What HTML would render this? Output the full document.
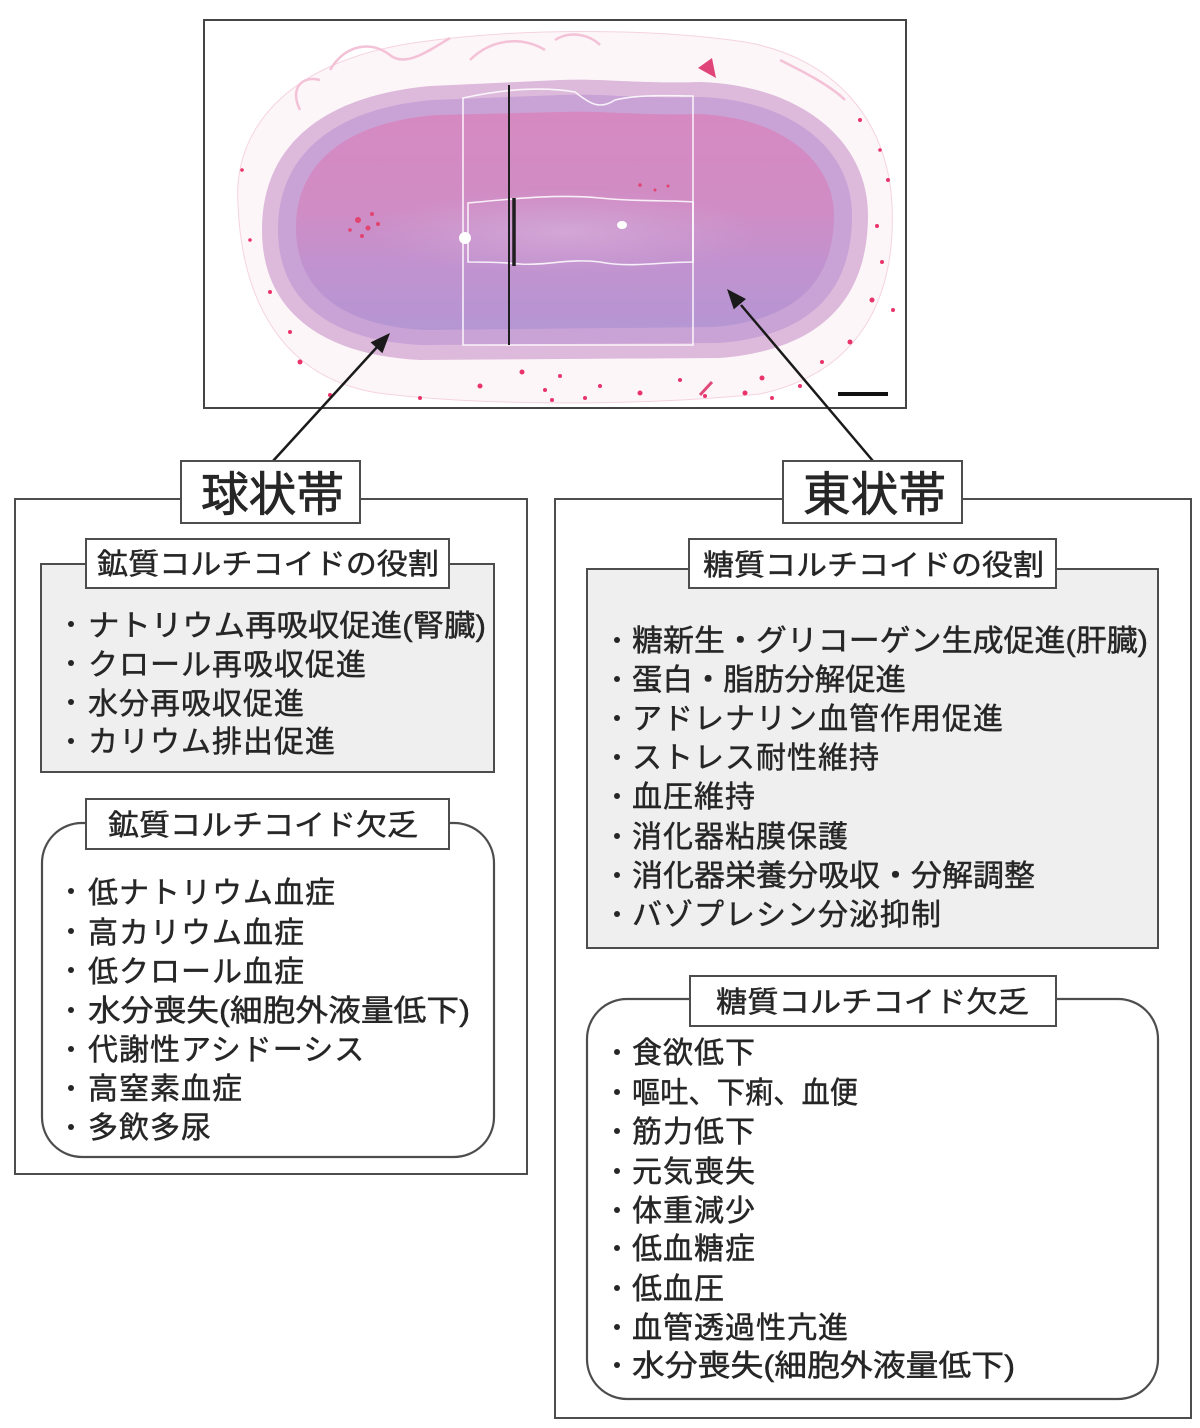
<!DOCTYPE html>
<html lang="ja">
<head>
<meta charset="utf-8">
<style>
  html,body{margin:0;padding:0;background:#fff;}
  svg{display:block;}
  .t{font-family:"Liberation Sans","Noto Sans CJK JP",sans-serif;fill:#262626;stroke:#262626;stroke-width:0.45px;}
  .it{font-size:30px;letter-spacing:1px;}
  .lb{font-size:29px;}
  .ti{font-size:47px;stroke-width:0.7px;}
</style>
</head>
<body>
<svg width="1200" height="1428" viewBox="0 0 1200 1428" xmlns="http://www.w3.org/2000/svg">
  <defs>
    <linearGradient id="core" x1="0" y1="0" x2="0" y2="1">
      <stop offset="0" stop-color="#d689c1"/>
      <stop offset="0.45" stop-color="#d08cc4"/>
      <stop offset="0.7" stop-color="#c192cf"/>
      <stop offset="1" stop-color="#b596d3"/>
    </linearGradient>
    <radialGradient id="med" cx="0.5" cy="0.5" r="0.5">
      <stop offset="0" stop-color="#d3a9d8" stop-opacity="0.9"/>
      <stop offset="1" stop-color="#cfa3d5" stop-opacity="0"/>
    </radialGradient>
  </defs>

  <!-- Photo frame -->
  <rect x="204" y="20" width="702" height="388" fill="#ffffff" stroke="#454545" stroke-width="2"/>

  <!-- capsule / fringe -->
  <path d="M238,205 C232,120 300,58 420,42 C520,28 650,28 745,42 C835,58 888,120 892,205 C896,295 862,372 760,394 C640,406 480,406 378,393 C282,378 242,300 238,205 Z" fill="#fdf6f9" stroke="#f5d3e1" stroke-width="1"/>
  <path d="M330,70 C345,45 370,40 390,55 C405,68 430,50 450,38 M470,60 C490,40 520,35 545,50 M555,40 C570,30 590,35 600,45 M300,110 C290,90 300,75 320,80 M780,60 C800,70 830,85 845,100" fill="none" stroke="#f3c2d6" stroke-width="2.5"/>
  <path d="M698,68 L712,58 L716,78 Z" fill="#e0457a"/>

  <!-- cortex layers -->
  <path d="M262,230 C262,140 330,95 430,86 L560,80 C600,78 640,84 700,82 C800,85 868,140 868,215 C868,300 820,350 720,358 L420,360 C320,355 262,310 262,230 Z" fill="#ddbadb"/>
  <path d="M278,230 C278,150 340,108 432,100 L560,95 C600,93 640,99 700,97 C790,100 852,148 852,215 C852,292 810,336 718,343 L422,345 C332,341 278,302 278,230 Z" fill="#c9a3d6"/>
  <path d="M296,228 C296,160 350,122 436,115 L560,112 C600,110 640,116 698,114 C780,117 834,160 834,215 C834,282 796,320 714,327 L425,330 C345,326 296,292 296,228 Z" fill="url(#core)"/>
  <ellipse cx="565" cy="232" rx="200" ry="44" fill="url(#med)"/>
  <!-- red cluster -->
  <g fill="#e2436f">
    <circle cx="358" cy="220" r="3"/><circle cx="368" cy="228" r="2.5"/><circle cx="372" cy="214" r="2"/>
    <circle cx="362" cy="236" r="2"/><circle cx="378" cy="224" r="2"/><circle cx="350" cy="230" r="1.8"/>
    <circle cx="640" cy="185" r="1.8"/><circle cx="655" cy="190" r="1.5"/><circle cx="668" cy="186" r="1.5"/>
  </g>

  <!-- white overlay outlines -->
  <path d="M463,98 C500,90 540,86 575,92 C590,104 600,110 615,100 C640,94 670,96 693,96 L693,345 L463,345 Z" fill="none" stroke="#ffffff" stroke-opacity="0.85" stroke-width="1.6"/>
  <path d="M468,203 C520,198 560,194 600,198 C640,202 670,200 693,202 L693,262 C660,262 630,268 600,262 C570,258 545,266 520,264 C500,262 480,262 468,262 Z" fill="none" stroke="#ffffff" stroke-opacity="0.85" stroke-width="1.6"/>
  <circle cx="465" cy="238" r="6" fill="#ffffff"/>
  <ellipse cx="622" cy="225" rx="5" ry="4" fill="#ffffff"/>
  <line x1="509" y1="85" x2="509" y2="345" stroke="#1e1e1e" stroke-width="2"/>
  <line x1="514" y1="198" x2="514" y2="266" stroke="#1e1e1e" stroke-width="3.5"/>

  <!-- scattered red dots -->
  <g fill="#e8336b">
    <circle cx="290" cy="332" r="2"/><circle cx="300" cy="362" r="2.5"/><circle cx="330" cy="395" r="2"/>
    <circle cx="420" cy="398" r="2"/><circle cx="480" cy="386" r="2.5"/><circle cx="522" cy="372" r="2.5"/>
    <circle cx="545" cy="390" r="2"/><circle cx="600" cy="386" r="2"/><circle cx="640" cy="393" r="2.5"/>
    <circle cx="680" cy="380" r="2"/><circle cx="705" cy="396" r="2"/><circle cx="762" cy="378" r="2.5"/>
    <circle cx="800" cy="386" r="2"/><circle cx="850" cy="342" r="2.5"/><circle cx="872" cy="300" r="2.5"/>
    <circle cx="882" cy="262" r="2"/><circle cx="877" cy="226" r="2"/><circle cx="888" cy="180" r="2"/>
    <circle cx="860" cy="120" r="2"/><circle cx="250" cy="240" r="1.8"/><circle cx="242" cy="170" r="1.8"/>
    <circle cx="270" cy="292" r="2"/><circle cx="552" cy="400" r="2"/><circle cx="745" cy="393" r="2.5"/>
    <circle cx="822" cy="362" r="2"/><circle cx="772" cy="398" r="2"/><circle cx="560" cy="376" r="2"/>
    <circle cx="585" cy="398" r="2"/><circle cx="880" cy="150" r="1.8"/><circle cx="893" cy="310" r="2"/>
  </g>
  <path d="M700,395 L712,382" stroke="#e04a7a" stroke-width="3"/>

  <!-- scale bar -->
  <line x1="838" y1="394" x2="888" y2="394" stroke="#111" stroke-width="4"/>

  <!-- arrows -->
  <line x1="273" y1="461" x2="378" y2="346" stroke="#1a1a1a" stroke-width="2.5"/>
  <polygon points="390,333 382.4,353.2 370.6,342.4" fill="#1a1a1a"/>
  <line x1="873" y1="461" x2="741" y2="305" stroke="#1a1a1a" stroke-width="2.5"/>
  <polygon points="727,289 746,299 733.8,309.4" fill="#1a1a1a"/>

  <!-- ===== LEFT COLUMN ===== -->
  <rect x="15" y="499" width="512" height="675" fill="none" stroke="#4d4d4d" stroke-width="2"/>
  <rect x="181" y="461" width="179" height="62" fill="#fff" stroke="#4d4d4d" stroke-width="2"/>
  <text class="t ti" x="201" y="511" textLength="143" lengthAdjust="spacingAndGlyphs">球状帯</text>

  <rect x="41" y="564" width="453" height="208" fill="#efefef" stroke="#4d4d4d" stroke-width="2"/>
  <rect x="86" y="539" width="363" height="49" fill="#fff" stroke="#4d4d4d" stroke-width="2"/>
  <text class="t lb" x="97" y="574" textLength="342" lengthAdjust="spacingAndGlyphs">鉱質コルチコイドの役割</text>

  <g fill="#262626">
    <circle cx="71" cy="624" r="3"/><circle cx="71" cy="663" r="3"/><circle cx="71" cy="702" r="3"/><circle cx="71" cy="741" r="3"/>
  </g>
  <text class="t it" x="88" y="636" textLength="398" lengthAdjust="spacingAndGlyphs" style="letter-spacing:0">ナトリウム再吸収促進(腎臓)</text>
  <text class="t it" x="88" y="675">クロール再吸収促進</text>
  <text class="t it" x="88" y="714">水分再吸収促進</text>
  <text class="t it" x="88" y="752">カリウム排出促進</text>

  <path d="M86,823 L82,823 A40,40 0 0 0 42,863 L42,1117 A40,40 0 0 0 82,1157 L454,1157 A40,40 0 0 0 494,1117 L494,863 A40,40 0 0 0 454,823 L449,823" fill="none" stroke="#4d4d4d" stroke-width="2.2"/>
  <rect x="86" y="799" width="363" height="50" fill="#fff" stroke="#4d4d4d" stroke-width="2"/>
  <text class="t lb" x="108" y="835" textLength="310" lengthAdjust="spacingAndGlyphs">鉱質コルチコイド欠乏</text>

  <g fill="#262626">
    <circle cx="71" cy="891" r="3"/><circle cx="71" cy="931" r="3"/><circle cx="71" cy="970" r="3"/><circle cx="71" cy="1010" r="3"/>
    <circle cx="71" cy="1049" r="3"/><circle cx="71" cy="1088" r="3"/><circle cx="71" cy="1127" r="3"/>
  </g>
  <text class="t it" x="88" y="903">低ナトリウム血症</text>
  <text class="t it" x="88" y="943">高カリウム血症</text>
  <text class="t it" x="88" y="982">低クロール血症</text>
  <text class="t it" x="88" y="1021" textLength="382" lengthAdjust="spacingAndGlyphs" style="letter-spacing:0">水分喪失(細胞外液量低下)</text>
  <text class="t it" x="88" y="1060">代謝性アシドーシス</text>
  <text class="t it" x="88" y="1099">高窒素血症</text>
  <text class="t it" x="88" y="1138">多飲多尿</text>

  <!-- ===== RIGHT COLUMN ===== -->
  <rect x="555" y="499" width="636" height="919" fill="none" stroke="#4d4d4d" stroke-width="2"/>
  <rect x="783" y="461" width="179" height="62" fill="#fff" stroke="#4d4d4d" stroke-width="2"/>
  <text class="t ti" x="803" y="511" textLength="143" lengthAdjust="spacingAndGlyphs">東状帯</text>

  <rect x="587" y="569" width="571" height="379" fill="#efefef" stroke="#4d4d4d" stroke-width="2"/>
  <rect x="689" y="539" width="367" height="49" fill="#fff" stroke="#4d4d4d" stroke-width="2"/>
  <text class="t lb" x="703" y="575" textLength="341" lengthAdjust="spacingAndGlyphs">糖質コルチコイドの役割</text>

  <g fill="#262626">
    <circle cx="617" cy="640" r="3"/><circle cx="617" cy="679" r="3"/><circle cx="617" cy="718" r="3"/><circle cx="617" cy="757" r="3"/>
    <circle cx="617" cy="796" r="3"/><circle cx="617" cy="836" r="3"/><circle cx="617" cy="875" r="3"/><circle cx="617" cy="914" r="3"/>
  </g>
  <text class="t it" x="632" y="651" textLength="516" lengthAdjust="spacingAndGlyphs" style="letter-spacing:0">糖新生・グリコーゲン生成促進(肝臓)</text>
  <text class="t it" x="632" y="690" textLength="274" lengthAdjust="spacingAndGlyphs" style="letter-spacing:0">蛋白・脂肪分解促進</text>
  <text class="t it" x="632" y="729">アドレナリン血管作用促進</text>
  <text class="t it" x="632" y="768">ストレス耐性維持</text>
  <text class="t it" x="632" y="807">血圧維持</text>
  <text class="t it" x="632" y="847">消化器粘膜保護</text>
  <text class="t it" x="632" y="886" textLength="403" lengthAdjust="spacingAndGlyphs" style="letter-spacing:0">消化器栄養分吸収・分解調整</text>
  <text class="t it" x="632" y="925">バゾプレシン分泌抑制</text>

  <path d="M690,999 L627,999 A40,40 0 0 0 587,1039 L587,1359 A40,40 0 0 0 627,1399 L1118,1399 A40,40 0 0 0 1158,1359 L1158,1039 A40,40 0 0 0 1118,999 L1056,999" fill="none" stroke="#4d4d4d" stroke-width="2.2"/>
  <rect x="690" y="976" width="366" height="50" fill="#fff" stroke="#4d4d4d" stroke-width="2"/>
  <text class="t lb" x="716" y="1012" textLength="313" lengthAdjust="spacingAndGlyphs">糖質コルチコイド欠乏</text>

  <g fill="#262626">
    <circle cx="617" cy="1052" r="3"/><circle cx="617" cy="1092" r="3"/><circle cx="617" cy="1131" r="3"/>
    <circle cx="617" cy="1171" r="3"/><circle cx="617" cy="1210" r="3"/><circle cx="617" cy="1248" r="3"/>
    <circle cx="617" cy="1288" r="3"/><circle cx="617" cy="1327" r="3"/><circle cx="617" cy="1365" r="3"/>
  </g>
  <text class="t it" x="632" y="1063">食欲低下</text>
  <text class="t it" x="632" y="1103" textLength="226" lengthAdjust="spacingAndGlyphs" style="letter-spacing:0">嘔吐、下痢、血便</text>
  <text class="t it" x="632" y="1142">筋力低下</text>
  <text class="t it" x="632" y="1182">元気喪失</text>
  <text class="t it" x="632" y="1221">体重減少</text>
  <text class="t it" x="632" y="1259">低血糖症</text>
  <text class="t it" x="632" y="1299">低血圧</text>
  <text class="t it" x="632" y="1338">血管透過性亢進</text>
  <text class="t it" x="632" y="1376" textLength="383" lengthAdjust="spacingAndGlyphs" style="letter-spacing:0">水分喪失(細胞外液量低下)</text>
</svg>
</body>
</html>
